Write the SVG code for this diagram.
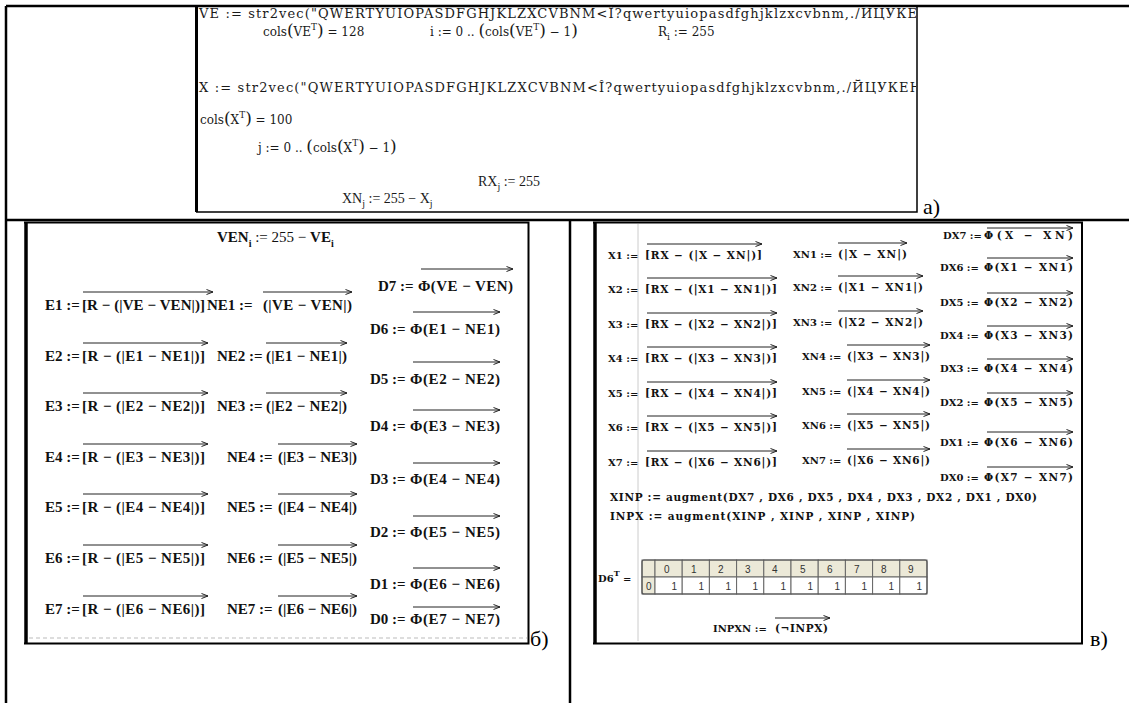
<svg xmlns="http://www.w3.org/2000/svg" width="1129" height="703" viewBox="0 0 1129 703">
<defs>
<style>
.t1{font-family:"DejaVu Serif","Liberation Serif",serif;font-size:12px;fill:#1a1a1a}
.t1l{font-size:13px}
.t2{font-family:"Liberation Serif","Times New Roman",serif;font-size:14px;fill:#1a1a1a}
.tb{font-family:"Liberation Serif","Times New Roman",serif;font-size:15px;font-weight:bold;fill:#111}
.tbn{font-weight:normal}
.tc{font-family:"DejaVu Serif","Liberation Serif",serif;font-size:10.5px;font-weight:bold;fill:#111}
.tcl{font-family:"DejaVu Serif","Liberation Serif",serif;font-size:10px;font-weight:bold;fill:#111}
.lab{font-family:"Liberation Serif","Times New Roman",serif;font-size:22px;fill:#000}
.vec{stroke:#222;stroke-width:1;fill:none;marker-end:url(#ah)}
.cell{fill:#fff;stroke:#666;stroke-width:1}
.hc{fill:#ece9d8;stroke:#666;stroke-width:1}
.tn{font-family:"Liberation Sans",Arial,sans-serif;font-size:10px;fill:#333}
.bp{font-size:17px}
.sub{font-size:10px}
</style>
<marker id="ah" markerWidth="8" markerHeight="6" refX="7" refY="3" orient="auto" markerUnits="userSpaceOnUse"><path d="M0.5,0.5 L7,3 L0.5,5.5" fill="none" stroke="#222" stroke-width="1"/></marker>
<clipPath id="clipA"><rect x="197" y="6" width="719" height="206"/></clipPath>
</defs>
<rect x="0" y="0" width="1129" height="703" fill="#fff"/>

<g id="table-grid" fill="none" stroke="#000" stroke-width="2.5">
<path d="M6 6 H1129 M6 6 V703 M6 220 H1129 M570 220 V703"/>
</g>

<g id="panel-a">
<path d="M196.5 6 V212" stroke="#000" stroke-width="3" fill="none"/>
<path d="M196 212 H917 V6" stroke="#000" stroke-width="1.5" fill="none"/>
<g clip-path="url(#clipA)">
<text class="t1 t1l" x="199" y="18" textLength="718">VE := str2vec("QWERTYUIOPASDFGHJKLZXCVBNM&lt;Î?qwertyuiopasdfghjklzxcvbnm,./ЙЦУКЕ</text>
<text class="t1 t1l" x="199" y="92" textLength="722">X := str2vec("QWERTYUIOPASDFGHJKLZXCVBNM&lt;Î?qwertyuiopasdfghjklzxcvbnm,./ЙЦУКЕН</text>
</g>
<text class="t1" x="263" y="36">cols<tspan class="bp">(</tspan>VE<tspan dy="-6" font-size="9">T</tspan><tspan dy="6" class="bp">)</tspan> = 128</text>
<text class="t1" x="430" y="36">i := 0 .. <tspan class="bp">(</tspan>cols<tspan class="bp">(</tspan>VE<tspan dy="-6" font-size="9">T</tspan><tspan dy="6" class="bp">)</tspan> − 1<tspan class="bp">)</tspan></text>
<text class="t1" x="658" y="36">R<tspan dy="4" font-size="9">i</tspan><tspan dy="-4"> := 255</tspan></text>
<text class="t1" x="200" y="124">cols<tspan class="bp">(</tspan>X<tspan dy="-6" font-size="9">T</tspan><tspan dy="6" class="bp">)</tspan> = 100</text>
<text class="t1" x="258" y="152">j := 0 .. <tspan class="bp">(</tspan>cols<tspan class="bp">(</tspan>X<tspan dy="-6" font-size="9">T</tspan><tspan dy="6" class="bp">)</tspan> − 1<tspan class="bp">)</tspan></text>
<text class="t2" x="478" y="186">RX<tspan dy="4" font-size="10">j</tspan><tspan dy="-4"> := 255</tspan></text>
<text class="t2" x="342" y="203">XN<tspan dy="4" font-size="10">j</tspan><tspan dy="-4"> := 255 − X</tspan><tspan dy="4" font-size="10">j</tspan></text>
<text class="lab" x="923" y="214">a)</text>
</g>

<g id="panel-b">
<path d="M26 222.5 V643" stroke="#000" stroke-width="3.5" fill="none"/>
<path d="M24 222.5 H528.5 V643.5 H24" stroke="#000" stroke-width="2" fill="none"/>
<path d="M29 638 H527" stroke="#bbb" stroke-width="1" stroke-dasharray="4,3" fill="none"/>
<text class="tb" x="217" y="242">VEN<tspan dy="5" class="sub">i</tspan><tspan dy="-5" class="tbn"> := 255 − </tspan>VE<tspan dy="5" class="sub">i</tspan></text>

<g id="row-e1">
<text class="tb" x="45" y="310">E1 :=</text>
<text class="tb" x="82" y="310" textLength="123">[R − (|VE − VEN|)]</text>
<line class="vec" x1="83" y1="292" x2="213" y2="292"/>
<text class="tb" x="207" y="310">NE1 :=</text>
<text class="tb" x="263" y="310" textLength="89">(|VE − VEN|)</text>
<line class="vec" x1="263" y1="292" x2="352" y2="292"/>
</g>
<g id="row-e2">
<text class="tb" x="45" y="361">E2 :=</text>
<text class="tb" x="82" y="361" textLength="123">[R − (|E1 − NE1|)]</text>
<line class="vec" x1="83" y1="343" x2="208" y2="343"/>
<text class="tb" x="217" y="361">NE2 :=</text>
<text class="tb" x="266" y="361" textLength="81">(|E1 − NE1|)</text>
<line class="vec" x1="266" y1="343" x2="347" y2="343"/>
</g>
<g id="row-e3">
<text class="tb" x="45" y="411">E3 :=</text>
<text class="tb" x="82" y="411" textLength="123">[R − (|E2 − NE2|)]</text>
<line class="vec" x1="83" y1="393" x2="208" y2="393"/>
<text class="tb" x="217" y="411">NE3 :=</text>
<text class="tb" x="266" y="411" textLength="81">(|E2 − NE2|)</text>
<line class="vec" x1="266" y1="393" x2="347" y2="393"/>
</g>
<g id="row-e4">
<text class="tb" x="45" y="462">E4 :=</text>
<text class="tb" x="82" y="462" textLength="123">[R − (|E3 − NE3|)]</text>
<line class="vec" x1="83" y1="444" x2="208" y2="444"/>
<text class="tb" x="227" y="462">NE4 :=</text>
<text class="tb" x="278" y="462" textLength="79">(|E3 − NE3|)</text>
<line class="vec" x1="278" y1="444" x2="357" y2="444"/>
</g>
<g id="row-e5">
<text class="tb" x="45" y="512">E5 :=</text>
<text class="tb" x="82" y="512" textLength="123">[R − (|E4 − NE4|)]</text>
<line class="vec" x1="83" y1="494" x2="208" y2="494"/>
<text class="tb" x="227" y="512">NE5 :=</text>
<text class="tb" x="278" y="512" textLength="79">(|E4 − NE4|)</text>
<line class="vec" x1="278" y1="494" x2="357" y2="494"/>
</g>
<g id="row-e6">
<text class="tb" x="45" y="563">E6 :=</text>
<text class="tb" x="82" y="563" textLength="123">[R − (|E5 − NE5|)]</text>
<line class="vec" x1="83" y1="545" x2="208" y2="545"/>
<text class="tb" x="227" y="563">NE6 :=</text>
<text class="tb" x="278" y="563" textLength="79">(|E5 − NE5|)</text>
<line class="vec" x1="278" y1="545" x2="357" y2="545"/>
</g>
<g id="row-e7">
<text class="tb" x="45" y="614">E7 :=</text>
<text class="tb" x="82" y="614" textLength="123">[R − (|E6 − NE6|)]</text>
<line class="vec" x1="83" y1="596" x2="208" y2="596"/>
<text class="tb" x="227" y="614">NE7 :=</text>
<text class="tb" x="278" y="614" textLength="79">(|E6 − NE6|)</text>
<line class="vec" x1="278" y1="596" x2="357" y2="596"/>
</g>

<g id="d-column">
<text class="tb" x="378" y="291">D7 :=</text>
<text class="tb" x="418" y="291" textLength="95">Φ(VE − VEN)</text>
<line class="vec" x1="421" y1="269" x2="513" y2="269"/>
<text class="tb" x="370" y="334">D6 :=</text>
<text class="tb" x="410" y="334" textLength="90">Φ(E1 − NE1)</text>
<line class="vec" x1="413" y1="312" x2="500" y2="312"/>
<text class="tb" x="370" y="384">D5 :=</text>
<text class="tb" x="410" y="384" textLength="90">Φ(E2 − NE2)</text>
<line class="vec" x1="413" y1="362" x2="500" y2="362"/>
<text class="tb" x="370" y="431">D4 :=</text>
<text class="tb" x="410" y="431" textLength="90">Φ(E3 − NE3)</text>
<line class="vec" x1="413" y1="410" x2="500" y2="410"/>
<text class="tb" x="370" y="484">D3 :=</text>
<text class="tb" x="410" y="484" textLength="90">Φ(E4 − NE4)</text>
<line class="vec" x1="413" y1="463" x2="500" y2="463"/>
<text class="tb" x="370" y="537">D2 :=</text>
<text class="tb" x="410" y="537" textLength="90">Φ(E5 − NE5)</text>
<line class="vec" x1="413" y1="516" x2="500" y2="516"/>
<text class="tb" x="370" y="589">D1 :=</text>
<text class="tb" x="410" y="589" textLength="90">Φ(E6 − NE6)</text>
<line class="vec" x1="413" y1="568" x2="500" y2="568"/>
<text class="tb" x="370" y="624">D0 :=</text>
<text class="tb" x="410" y="624" textLength="90">Φ(E7 − NE7)</text>
<line class="vec" x1="413" y1="607" x2="500" y2="607"/>
</g>
<text class="lab" x="530" y="646">б)</text>
</g>

<g id="panel-c">
<path d="M595 222.5 V643" stroke="#000" stroke-width="3.5" fill="none"/>
<path d="M593 222.5 H1082 V643.5 H593" stroke="#000" stroke-width="2" fill="none"/>
<path d="M638 224 V641" stroke="#ccc" stroke-width="1" fill="none"/>

<g id="x-rows">
<text class="tcl" x="608" y="259">X1 :=</text>
<text class="tc" x="645" y="259" textLength="117">[RX − (|X − XN|)]</text>
<line class="vec" x1="647" y1="244" x2="762" y2="244"/>
<text class="tcl" x="608" y="293">X2 :=</text>
<text class="tc" x="645" y="293" textLength="132">[RX − (|X1 − XN1|)]</text>
<line class="vec" x1="647" y1="278" x2="777" y2="278"/>
<text class="tcl" x="608" y="328">X3 :=</text>
<text class="tc" x="645" y="328" textLength="132">[RX − (|X2 − XN2|)]</text>
<line class="vec" x1="647" y1="313" x2="777" y2="313"/>
<text class="tcl" x="608" y="362">X4 :=</text>
<text class="tc" x="645" y="362" textLength="132">[RX − (|X3 − XN3|)]</text>
<line class="vec" x1="647" y1="347" x2="777" y2="347"/>
<text class="tcl" x="608" y="397">X5 :=</text>
<text class="tc" x="645" y="397" textLength="132">[RX − (|X4 − XN4|)]</text>
<line class="vec" x1="647" y1="382" x2="777" y2="382"/>
<text class="tcl" x="608" y="431">X6 :=</text>
<text class="tc" x="645" y="431" textLength="132">[RX − (|X5 − XN5|)]</text>
<line class="vec" x1="647" y1="416" x2="777" y2="416"/>
<text class="tcl" x="608" y="466">X7 :=</text>
<text class="tc" x="645" y="466" textLength="132">[RX − (|X6 − XN6|)]</text>
<line class="vec" x1="647" y1="451" x2="777" y2="451"/>
</g>

<g id="xn-rows">
<text class="tcl" x="793" y="258">XN1 :=</text>
<text class="tc" x="838" y="258" textLength="69">(|X − XN|)</text>
<line class="vec" x1="838" y1="243" x2="907" y2="243"/>
<text class="tcl" x="793" y="291">XN2 :=</text>
<text class="tc" x="838" y="291" textLength="85">(|X1 − XN1|)</text>
<line class="vec" x1="838" y1="276" x2="923" y2="276"/>
<text class="tcl" x="793" y="326">XN3 :=</text>
<text class="tc" x="838" y="326" textLength="85">(|X2 − XN2|)</text>
<line class="vec" x1="838" y1="311" x2="923" y2="311"/>
<text class="tcl" x="802" y="360">XN4 :=</text>
<text class="tc" x="847" y="360" textLength="83">(|X3 − XN3|)</text>
<line class="vec" x1="847" y1="345" x2="930" y2="345"/>
<text class="tcl" x="802" y="395">XN5 :=</text>
<text class="tc" x="847" y="395" textLength="83">(|X4 − XN4|)</text>
<line class="vec" x1="847" y1="380" x2="930" y2="380"/>
<text class="tcl" x="802" y="429">XN6 :=</text>
<text class="tc" x="847" y="429" textLength="83">(|X5 − XN5|)</text>
<line class="vec" x1="847" y1="414" x2="930" y2="414"/>
<text class="tcl" x="802" y="464">XN7 :=</text>
<text class="tc" x="847" y="464" textLength="83">(|X6 − XN6|)</text>
<line class="vec" x1="847" y1="449" x2="930" y2="449"/>
</g>

<g id="dx-column">
<text class="tcl" x="943" y="239">DX7 :=</text>
<text class="tc" x="984" y="239" textLength="89">Φ(X − XN)</text>
<line class="vec" x1="987" y1="228" x2="1073" y2="228"/>
<text class="tcl" x="940" y="271">DX6 :=</text>
<text class="tc" x="984" y="271" textLength="89">Φ(X1 − XN1)</text>
<line class="vec" x1="987" y1="258" x2="1073" y2="258"/>
<text class="tcl" x="940" y="306">DX5 :=</text>
<text class="tc" x="984" y="306" textLength="89">Φ(X2 − XN2)</text>
<line class="vec" x1="987" y1="293" x2="1073" y2="293"/>
<text class="tcl" x="940" y="339">DX4 :=</text>
<text class="tc" x="984" y="339" textLength="89">Φ(X3 − XN3)</text>
<line class="vec" x1="987" y1="326" x2="1073" y2="326"/>
<text class="tcl" x="940" y="372">DX3 :=</text>
<text class="tc" x="984" y="372" textLength="89">Φ(X4 − XN4)</text>
<line class="vec" x1="987" y1="359" x2="1073" y2="359"/>
<text class="tcl" x="940" y="406">DX2 :=</text>
<text class="tc" x="984" y="406" textLength="89">Φ(X5 − XN5)</text>
<line class="vec" x1="987" y1="393" x2="1073" y2="393"/>
<text class="tcl" x="940" y="446">DX1 :=</text>
<text class="tc" x="984" y="446" textLength="89">Φ(X6 − XN6)</text>
<line class="vec" x1="987" y1="432" x2="1073" y2="432"/>
<text class="tcl" x="940" y="481">DX0 :=</text>
<text class="tc" x="984" y="481" textLength="89">Φ(X7 − XN7)</text>
<line class="vec" x1="987" y1="467" x2="1073" y2="467"/>
</g>

<text class="tc" x="610" y="501" textLength="427">XINP := augment(DX7 , DX6 , DX5 , DX4 , DX3 , DX2 , DX1 , DX0)</text>
<text class="tc" x="610" y="520" textLength="305">INPX := augment(XINP , XINP , XINP , XINP)</text>

<g id="d6t-table">
<text class="tcl" x="598" y="582">D6<tspan dy="-6" font-size="8">T</tspan><tspan dy="6"> =</tspan></text>
<rect class="hc" x="642" y="560" width="13" height="17"/>
<rect class="hc" x="642" y="577" width="13" height="17"/>
<text class="tn" x="646" y="590">0</text>
<rect class="hc" x="655" y="560" width="27.2" height="17"/>
<rect class="hc" x="682.2" y="560" width="27.2" height="17"/>
<rect class="hc" x="709.4" y="560" width="27.2" height="17"/>
<rect class="hc" x="736.6" y="560" width="27.2" height="17"/>
<rect class="hc" x="763.8" y="560" width="27.2" height="17"/>
<rect class="hc" x="791" y="560" width="27.2" height="17"/>
<rect class="hc" x="818.2" y="560" width="27.2" height="17"/>
<rect class="hc" x="845.4" y="560" width="27.2" height="17"/>
<rect class="hc" x="872.6" y="560" width="27.2" height="17"/>
<rect class="hc" x="899.8" y="560" width="27.2" height="17"/>
<rect class="cell" x="655" y="577" width="27.2" height="17"/>
<rect class="cell" x="682.2" y="577" width="27.2" height="17"/>
<rect class="cell" x="709.4" y="577" width="27.2" height="17"/>
<rect class="cell" x="736.6" y="577" width="27.2" height="17"/>
<rect class="cell" x="763.8" y="577" width="27.2" height="17"/>
<rect class="cell" x="791" y="577" width="27.2" height="17"/>
<rect class="cell" x="818.2" y="577" width="27.2" height="17"/>
<rect class="cell" x="845.4" y="577" width="27.2" height="17"/>
<rect class="cell" x="872.6" y="577" width="27.2" height="17"/>
<rect class="cell" x="899.8" y="577" width="27.2" height="17"/>
<rect x="642" y="560" width="285" height="34" rx="2" fill="none" stroke="#555" stroke-width="1.2"/>
<g class="tn">
<text x="664" y="573">0</text><text x="691" y="573">1</text><text x="718" y="573">2</text><text x="745" y="573">3</text><text x="772" y="573">4</text><text x="800" y="573">5</text><text x="827" y="573">6</text><text x="854" y="573">7</text><text x="881" y="573">8</text><text x="908" y="573">9</text>
</g>
<g class="tn" text-anchor="end">
<text x="677" y="590">1</text><text x="704" y="590">1</text><text x="731" y="590">1</text><text x="758" y="590">1</text><text x="786" y="590">1</text><text x="813" y="590">1</text><text x="840" y="590">1</text><text x="867" y="590">1</text><text x="894" y="590">1</text><text x="922" y="590">1</text>
</g>
</g>

<text class="tcl" x="713" y="632">INPXN :=</text>
<text class="tc" x="775" y="632" textLength="53">(¬INPX)</text>
<line class="vec" x1="775" y1="618" x2="830" y2="618"/>
<text class="lab" x="1090" y="646">в)</text>
</g>
</svg>
